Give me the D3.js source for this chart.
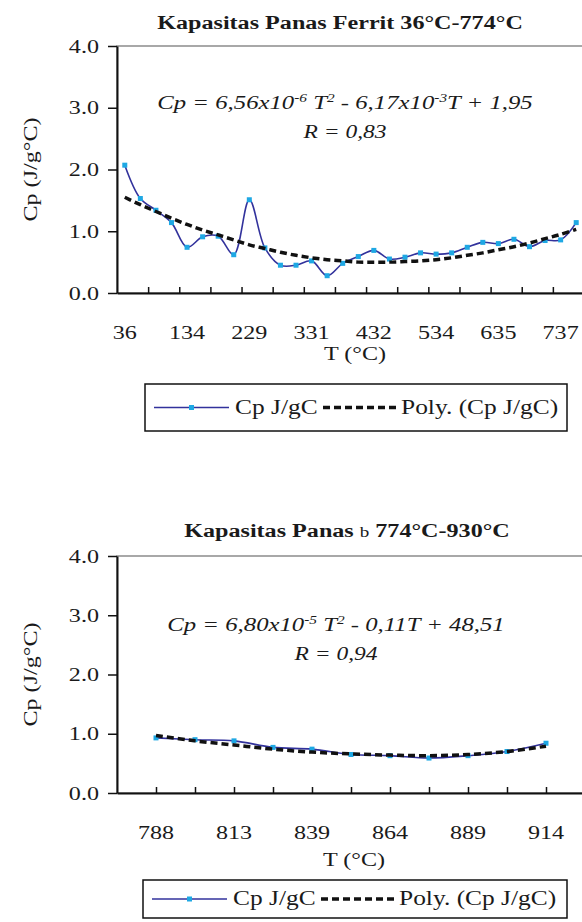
<!DOCTYPE html>
<html>
<head>
<meta charset="utf-8">
<script src="https://cdn.jsdelivr.net/npm/d3@7"></script>
<style>
  body { margin: 0; background: #fff; }
  svg { display: block; }
  text { font-family: "Liberation Serif", "Times New Roman", serif; fill: #1a1a1a; }
</style>
</head>
<body>
<div id="chart"></div>
<script>
// ferrite, 36-774 C : one category every ~25 C
var tempsA = [36, 61, 85, 110, 134, 158, 182, 205, 229, 255, 280, 306, 331, 356, 381,
  407, 432, 458, 483, 509, 534, 559, 584, 610, 635, 661, 686, 712, 737, 762];
var cpA = [2.07, 1.53, 1.34, 1.14, 0.74, 0.91, 0.92, 0.62, 1.51, 0.73, 0.45, 0.45, 0.52, 0.28, 0.48,
  0.59, 0.69, 0.55, 0.58, 0.65, 0.63, 0.65, 0.74, 0.82, 0.80, 0.87, 0.75, 0.85, 0.86, 1.14];
var polyA = [1.55, 1.43, 1.32, 1.21, 1.11, 1.02, 0.94, 0.86, 0.78, 0.72, 0.66, 0.61, 0.57, 0.54, 0.52,
  0.50, 0.50, 0.50, 0.51, 0.52, 0.54, 0.57, 0.61, 0.65, 0.70, 0.75, 0.81, 0.88, 0.95, 1.03];

// 774-930 C
var tempsB = [788, 800, 813, 826, 839, 851, 864, 876, 889, 901, 914];
var cpB = [0.93, 0.90, 0.88, 0.77, 0.74, 0.65, 0.63, 0.59, 0.63, 0.70, 0.84];
var polyB = [0.97, 0.88, 0.81, 0.74, 0.69, 0.66, 0.64, 0.63, 0.65, 0.70, 0.79];

var yTicks = [0, 1, 2, 3, 4];

var SX = 1.27; // text in the scan is stretched sideways
var blue = "#32329c", cyan = "#1ea8e4";

var svg = d3.select("#chart").append("svg")
  .attr("width", 582)
  .attr("height", 922);

function label(g, x, y, s, anchor, size, weight, style) {
  return g.append("text")
    .attr("transform", "translate(" + x + "," + y + ") scale(" + SX + ",1)")
    .attr("text-anchor", anchor || "middle")
    .attr("font-size", size || 19)
    .attr("font-weight", weight || "normal")
    .attr("font-style", style || "normal")
    .text(s);
}

// pieces: [text, isSuperscript]
function richLabel(g, x, y, pieces, size, style) {
  var t = label(g, x, y, "", "middle", size, "normal", style);
  var up = false;
  pieces.forEach(function (p) {
    var ts = t.append("tspan").text(p[0]);
    if (p[1] && !up) { ts.attr("dy", -7).attr("font-size", size * 0.62); up = true; }
    else if (p[1]) { ts.attr("font-size", size * 0.62); }
    else if (up) { ts.attr("dy", 7); up = false; }
  });
  return t;
}

function drawChart(c) {
  var g = svg.append("g");
  var left = 117;

  var x = d3.scaleLinear().domain(c.xDomain).range([left, c.right]);
  var y = d3.scaleLinear().domain([0, 4]).range([c.bottom, c.top]);

  // plot area border
  g.append("rect")
    .attr("x", left).attr("y", c.top)
    .attr("width", c.right - left).attr("height", c.bottom - c.top)
    .attr("fill", "none").attr("stroke", "#8c8c8c").attr("stroke-width", 1.5);

  // y axis
  var ya = g.append("g")
    .attr("transform", "translate(" + left + ",0)")
    .call(d3.axisLeft(y).tickValues(yTicks).tickSize(9).tickSizeOuter(0).tickFormat(""));
  ya.select(".domain").attr("stroke", "#111").attr("stroke-width", 2);
  ya.selectAll(".tick line").attr("stroke", "#111").attr("stroke-width", 1.5);
  yTicks.forEach(function (v) {
    label(g, 99, y(v) + 6.5, d3.format(".1f")(v), "end");
  });

  // x axis, ticks point inwards
  var xa = g.append("g")
    .attr("transform", "translate(0," + c.bottom + ")")
    .call(d3.axisBottom(x).tickValues(c.tickIdx).tickSize(-6).tickSizeOuter(0).tickFormat(""));
  xa.select(".domain").attr("stroke", "#111").attr("stroke-width", 2);
  xa.selectAll(".tick line").attr("stroke", "#111").attr("stroke-width", 1.5);
  c.temps.forEach(function (t, i) {
    if (i % c.labelEvery == 0) label(g, x(i), c.xLabelY, String(t));
  });

  label(g, c.xTitleX, c.xTitleY, "T (°C)");
  g.append("text")
    .attr("transform", "translate(37," + (c.top + c.bottom) / 2 + ") rotate(-90) scale(" + SX + ",1)")
    .attr("text-anchor", "middle")
    .attr("font-size", 19)
    .text("Cp (J/g°C)");

  // data
  var line = d3.line()
    .x(function (d, i) { return x(i); })
    .y(function (d) { return y(d); })
    .curve(d3.curveCatmullRom);

  g.append("path").datum(c.cp)
    .attr("d", line)
    .attr("fill", "none").attr("stroke", blue).attr("stroke-width", 1.6);
  g.selectAll(".mk").data(c.cp).enter().append("rect")
    .attr("x", function (d, i) { return x(i) - 2.5; })
    .attr("y", function (d) { return y(d) - 2.5; })
    .attr("width", 5).attr("height", 5)
    .attr("fill", cyan);
  g.append("path").datum(c.poly)
    .attr("d", line)
    .attr("fill", "none").attr("stroke", "#111").attr("stroke-width", 3.5)
    .attr("stroke-dasharray", "7,4");

  // title + equation
  var ttl = label(g, c.titleX, c.titleY, "", "middle", 19, "bold");
  c.title.forEach(function (p) {
    ttl.append("tspan").text(p[0]).attr("font-weight", p[1] ? "normal" : "bold")
      .attr("font-size", p[1] ? 15 : 19);
  });
  richLabel(g, c.eqX, c.eqY, c.eq, 19.5, "italic");
  label(g, c.eqX, c.eqY + 29, c.r, "middle", 18.5, "normal", "italic");

  // legend
  var L = c.legend;
  g.append("rect")
    .attr("x", L.x).attr("y", L.y).attr("width", L.w).attr("height", L.h)
    .attr("fill", "#fff").attr("stroke", "#111").attr("stroke-width", 1.5);
  var ly = L.y + L.h / 2;
  g.append("line").attr("x1", L.x + 9).attr("x2", L.x + 84).attr("y1", ly).attr("y2", ly)
    .attr("stroke", blue).attr("stroke-width", 1.6);
  g.append("rect").attr("x", L.x + 44).attr("y", ly - 2.5).attr("width", 5).attr("height", 5).attr("fill", cyan);
  label(g, L.x + 90, ly + 6, "Cp J/gC", "start", 20);
  g.append("line").attr("x1", L.x + 178).attr("x2", L.x + 254).attr("y1", ly).attr("y2", ly)
    .attr("stroke", "#111").attr("stroke-width", 3.5).attr("stroke-dasharray", "7,4");
  label(g, L.x + 256, ly + 6, "Poly. (Cp J/gC)", "start", 20);
}

drawChart({
  temps: tempsA, cp: cpA, poly: polyA,
  top: 46, bottom: 293, right: 584,
  xDomain: [-0.5, 29.5],
  tickIdx: d3.range(1.5, 29.5, 2),
  labelEvery: 4,
  xLabelY: 339, xTitleX: 355, xTitleY: 360,
  title: [["Kapasitas Panas Ferrit 36°C-774°C", false]],
  titleX: 340, titleY: 29,
  eq: [["Cp = 6,56x10", false], ["-6", true], [" T", false], ["2", true],
       [" - 6,17x10", false], ["-3", true], ["T + 1,95", false]],
  r: "R = 0,83",
  eqX: 345, eqY: 109,
  legend: { x: 145, y: 384, w: 422, h: 47 }
});

drawChart({
  temps: tempsB, cp: cpB, poly: polyB,
  top: 556, bottom: 793, right: 585,
  xDomain: [-1, 11],
  tickIdx: d3.range(0, 11, 1),
  labelEvery: 2,
  xLabelY: 839, xTitleX: 354, xTitleY: 866,
  title: [["Kapasitas Panas ", false], ["b", true], [" 774°C-930°C", false]],
  titleX: 347, titleY: 537,
  eq: [["Cp = 6,80x10", false], ["-5", true], [" T", false], ["2", true],
       [" - 0,11T + 48,51", false]],
  r: "R = 0,94",
  eqX: 336, eqY: 631,
  legend: { x: 143, y: 880, w: 424, h: 38 }
});
</script>
</body>
</html>
